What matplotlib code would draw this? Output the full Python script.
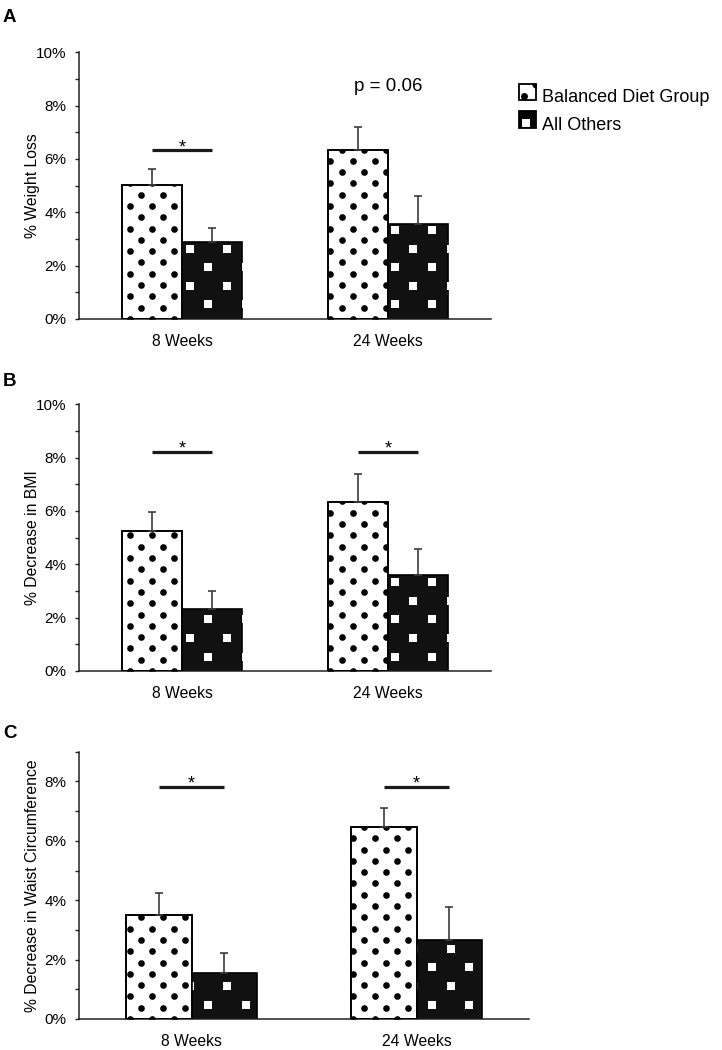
import numpy as np
import matplotlib.pyplot as plt
from matplotlib.patches import Patch, Rectangle
from matplotlib.lines import Line2D
from matplotlib.ticker import MultipleLocator, PercentFormatter

plt.rcParams['font.family'] = ['Liberation Sans', 'DejaVu Sans']

# ---------------- data ----------------
timepoints = ["8 Weeks", "24 Weeks"]
groups = ["Balanced Diet Group", "All Others"]

weight_balanced = [5.02, 6.33]
weight_balanced_err = [0.60, 0.87]
weight_others = [2.88, 3.57]
weight_others_err = [0.53, 1.05]

bmi_balanced = [5.26, 6.33]
bmi_balanced_err = [0.71, 1.07]
bmi_others = [2.31, 3.60]
bmi_others_err = [0.70, 0.99]

waist_balanced = [3.50, 6.45]
waist_balanced_err = [0.74, 0.64]
waist_others = [1.55, 2.66]
waist_others_err = [0.67, 1.12]

# significance annotations: (label, height) per timepoint
weight_sig = [("*", 6.32), ("p = 0.06", 8.71)]
bmi_sig = [("*", 8.23), ("*", 8.23)]
waist_sig = [("*", 7.82), ("*", 7.82)]

panels = [
    ("A", "% Weight Loss", weight_balanced, weight_balanced_err,
     weight_others, weight_others_err, weight_sig, 10),
    ("B", "% Decrease in BMI", bmi_balanced, bmi_balanced_err,
     bmi_others, bmi_others_err, bmi_sig, 10),
    ("C", "% Decrease in Waist Circumference", waist_balanced, waist_balanced_err,
     waist_others, waist_others_err, waist_sig, 9),
]

# axes boxes in pixels (left, bottom-from-top, width, height) for a 722x1050 canvas
W, H = 722, 1050
boxes = [(79, 319, 412, 266.7), (79, 671, 412, 266.7), (79, 1019, 450, 267.3)]
letter_y = [17.5, 381, 733.5]

BAR_W = 0.29
ERR_C = "#3c3c3c"


def add_pattern(ax, bar, kind):
    """fill a bar with the dot / square texture, lattice fixed to the axes origin"""
    ox, oy = ax.transData.transform((0, 0))
    (x0, y0), (x1, y1) = ax.transData.transform([bar.get_xy(),
                                                 (bar.get_x() + bar.get_width(),
                                                  bar.get_y() + bar.get_height())])
    pts = []
    if kind == "dots":
        dy, dx, ph = 11.3, 22.3, 6.1
        for k in range(0, int((y1 - oy) / dy) + 2):
            shift = ph + (dx / 2 if k % 2 else 0)
            for m in range(int((x0 - ox) / dx) - 2, int((x1 - ox) / dx) + 2):
                pts.append((ox + shift + m * dx, oy + k * dy))
        color, marker, s = "black", "o", 23
    else:
        dy, dx = 18.65, 37.3
        for k in range(-1, int((y1 - oy) / dy) + 2):
            shift = 17.4 if k % 2 == 0 else -1.2
            for m in range(int((x0 - ox) / dx) - 2, int((x1 - ox) / dx) + 2):
                pts.append((ox + shift + m * dx, oy + 14.5 + k * dy))
        color, marker, s = "white", "s", 28
    pts = np.array(pts)
    pts = pts[(pts[:, 0] > x0 - 6) & (pts[:, 0] < x1 + 6) &
              (pts[:, 1] > y0 - 6) & (pts[:, 1] < y1 + 6)]
    data = ax.transData.inverted().transform(pts)
    sc = ax.scatter(data[:, 0], data[:, 1], s=s, marker=marker, c=color,
                    linewidths=0, zorder=2.5)
    sc.set_clip_path(bar)


fig = plt.figure(figsize=(W / 100, H / 100), dpi=100)

for (letter, ylabel, bal, bal_err, oth, oth_err, sig, ymax), box, ly in zip(panels, boxes, letter_y):
    left, bottom, width, height = box
    ax = fig.add_axes([left / W, 1 - bottom / H, width / W, height / H])
    ax.set_xlim(0, 2)
    ax.set_ylim(0, ymax)

    x = np.arange(len(timepoints)) + 0.5
    bars_b = ax.bar(x - BAR_W / 2, bal, BAR_W, color="white", edgecolor="black",
                    linewidth=1.2, zorder=2)
    bars_o = ax.bar(x + BAR_W / 2, oth, BAR_W, color="#111111", edgecolor="black",
                    linewidth=1.2, zorder=2)
    for b in bars_b:
        add_pattern(ax, b, "dots")
    for b in bars_o:
        add_pattern(ax, b, "squares")
    # redraw outlines over the texture
    ax.bar(x - BAR_W / 2, bal, BAR_W, fill=False, edgecolor="black", linewidth=1.2, zorder=2.6)

    ax.errorbar(x - BAR_W / 2, bal, yerr=[np.zeros(len(bal)), bal_err], fmt="none",
                ecolor=ERR_C, elinewidth=1.2, capsize=3, capthick=1.2, zorder=3)
    ax.errorbar(x + BAR_W / 2, oth, yerr=[np.zeros(len(oth)), oth_err], fmt="none",
                ecolor=ERR_C, elinewidth=1.2, capsize=3, capthick=1.2, zorder=3)

    for xc, (txt, yv) in zip(x, sig):
        if txt == "*":
            ax.plot([xc - BAR_W / 2, xc + BAR_W / 2], [yv, yv], color="#1a1a1a",
                    lw=2.3, solid_capstyle="butt")
            ax.annotate(txt, (xc, yv), xytext=(0, -1.5), textcoords="offset points",
                        ha="center", va="baseline", fontsize=13)
        else:
            ax.text(xc, yv, txt, ha="center", va="center", fontsize=13.5)

    ax.spines[["top", "right"]].set_visible(False)
    for sp in ("left", "bottom"):
        ax.spines[sp].set_linewidth(1.1)
        ax.spines[sp].set_color("#222222")
    ax.yaxis.set_major_locator(MultipleLocator(2))
    ax.yaxis.set_minor_locator(MultipleLocator(1))
    ax.yaxis.set_major_formatter(PercentFormatter(decimals=0))
    ax.tick_params(axis="y", which="both", direction="out", length=3, width=1,
                   colors="#222222", labelsize=11, pad=6)
    ax.tick_params(axis="y", labelcolor="black")
    ax.set_xticks(x, timepoints)
    ax.tick_params(axis="x", length=0, labelsize=11.3, pad=11)
    ax.set_ylabel(ylabel, fontsize=11.3)
    ax.yaxis.set_label_coords((40 - left) / width, 0.5)

    fig.text(3 / W, 1 - ly / H, letter, fontsize=13.5, fontweight="bold", va="center")


class SwatchHandler:
    def __init__(self, face, mark_color, marker, spots):
        self.face = face
        self.mark_color = mark_color
        self.marker = marker
        self.spots = spots

    def legend_artist(self, legend, orig_handle, fontsize, handlebox):
        x0, y0 = handlebox.xdescent, handlebox.ydescent
        w, h = handlebox.width, handlebox.height
        tr = handlebox.get_transform()
        rect = Rectangle((x0, y0), w, h, facecolor=self.face, edgecolor="black",
                         linewidth=1.3, transform=tr)
        handlebox.add_artist(rect)
        for fx, fy, ms in self.spots:
            ln = Line2D([x0 + fx * w], [y0 + fy * h], marker=self.marker, ms=ms,
                        color=self.mark_color, linestyle="", markeredgewidth=0,
                        transform=tr)
            ln.set_clip_path(rect)
            handlebox.add_artist(ln)
        return rect


h_bal = Patch(facecolor="white", edgecolor="black")
h_oth = Patch(facecolor="black", edgecolor="black")
fig.legend([h_bal, h_oth], groups, loc="upper left",
           bbox_to_anchor=(519 / W, 1 - 88 / H), frameon=False, fontsize=13,
           handlelength=0.95, handleheight=1.0, handletextpad=0.3,
           labelspacing=0.5, borderpad=0, borderaxespad=0,
           handler_map={h_bal: SwatchHandler("white", "black", "o",
                                             [(0.28, 0.3, 5), (1.0, 1.0, 6)]),
                        h_oth: SwatchHandler("black", "white", "s",
                                             [(0.42, 0.3, 5.5)])})

fig.savefig("out.png", dpi=100)
